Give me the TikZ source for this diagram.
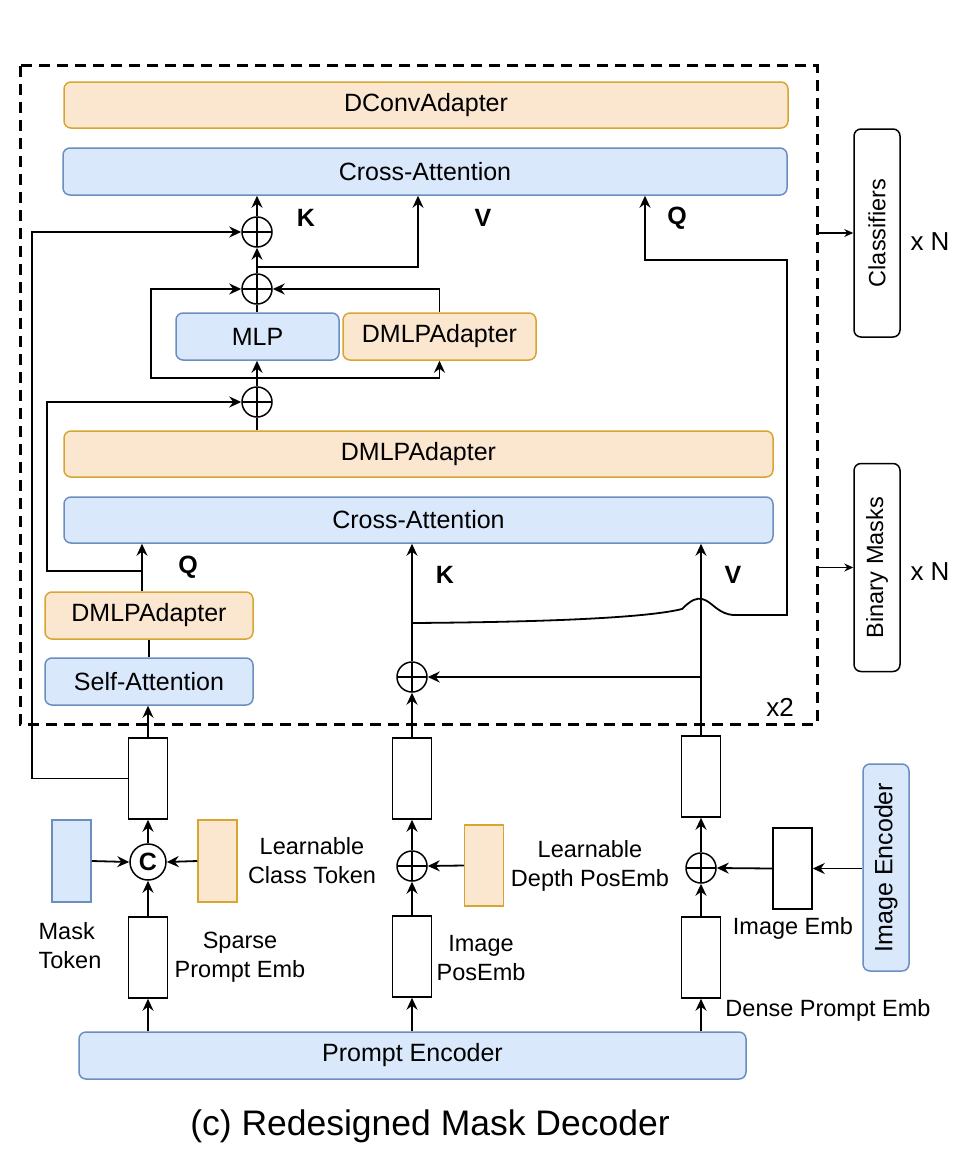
\documentclass[tikz,border=0pt]{standalone}
\usepackage{fontspec}
\setmainfont{Liberation Sans}
\usetikzlibrary{arrows.meta}
\definecolor{bluefill}{HTML}{DAE8FC}
\definecolor{bluedraw}{HTML}{6C8EBF}
\definecolor{orangefill}{HTML}{FBE6CF}
\definecolor{orangedraw}{HTML}{D8A530}
\begin{document}
\begin{tikzpicture}[
    x=1pt, y=-1pt,
    blk/.style={draw=bluedraw, fill=bluefill, rounded corners=7pt, line width=1.5pt, inner sep=0pt, font=\fontsize{25}{30}\selectfont},
    adp/.style={blk, draw=orangedraw, fill=orangefill},
    outbox/.style={draw, rounded corners=7pt, line width=1.5pt, inner sep=0pt, minimum width=46pt, minimum height=208pt},
    tok/.style={draw, line width=1.5pt, minimum width=39pt, minimum height=81pt, inner sep=0pt},
    sumc/.style={circle, draw, line width=1.5pt, minimum size=30pt, inner sep=0pt,
      path picture={\draw[line width=1.5pt] (path picture bounding box.north) -- (path picture bounding box.south)
        (path picture bounding box.west) -- (path picture bounding box.east);}},
    lbl/.style={font=\fontsize{23.5}{29}\selectfont, align=center, inner sep=0pt},
    kqv/.style={font=\fontsize{25}{30}\selectfont\bfseries, inner sep=0pt},
    arr/.style={-{Stealth[length=12pt, width=11pt, inset=4pt]}},
    line width=1.8pt
  ]
  \useasboundingbox (0,0) rectangle (956,1172);
  \draw[line width=3pt, dash pattern=on 11pt off 7pt] (20,66) rectangle (817,724);

  \node[adp, minimum width=724pt, minimum height=46pt] (dconv) at (426,105) {DConvAdapter};
  \node[blk, minimum width=724pt, minimum height=47pt] (caT) at (425,171.5) {Cross-Attention};
  \node[sumc] (sumK) at (257,232) {};
  \node[sumc] (sum2) at (257,289) {};
  \node[blk, minimum width=163pt, minimum height=47pt] (mlp) at (257.5,336.5) {MLP};
  \node[adp, minimum width=193pt, minimum height=47pt] (dmS) at (439.5,336.5) {DMLPAdapter};
  \node[sumc] (sum3) at (257,402) {};
  \node[adp, minimum width=709pt, minimum height=46pt] (dmB) at (418.5,454) {DMLPAdapter};
  \node[blk, minimum width=709pt, minimum height=46pt] (caL) at (418.5,520) {Cross-Attention};
  \node[adp, minimum width=208pt, minimum height=47pt] (adS) at (149,615.5) {DMLPAdapter};
  \node[blk, minimum width=208pt, minimum height=47pt] (sa) at (149,681.5) {Self-Attention};
  \node[sumc] (sumK2) at (412,677) {};

  \node[kqv] (kT) at (306,218) {K};
  \node[kqv] (vT) at (483,218) {V};
  \node[kqv] (qT) at (677,218) {Q};
  \node[kqv] (qL) at (188,567) {Q};
  \node[kqv] (kL) at (445,575) {K};
  \node[kqv] (vL) at (733,575) {V};
  \node[font=\fontsize{26}{30}\selectfont, inner sep=0pt] (rep) at (780,707) {x2};

  \node[outbox] (clsb) at (877,233) {\rotatebox{90}{\fontsize{23.5}{28}\selectfont Classifiers}};
  \node[outbox] (mskb) at (877,567.5) {\rotatebox{90}{\fontsize{23.5}{28}\selectfont Binary Masks}};
  \node[font=\fontsize{26}{30}\selectfont, inner sep=0pt] (nA) at (930,242) {x N};
  \node[font=\fontsize{26}{30}\selectfont, inner sep=0pt] (nB) at (930,572) {x N};

  \node[tok] (tokS) at (148,778.5) {};
  \node[circle, draw, line width=1.5pt, minimum size=36pt, inner sep=0pt, font=\fontsize{25}{30}\selectfont\bfseries] (cc) at (148,862) {C};
  \node[tok, draw=bluedraw, fill=bluefill, minimum height=82pt] (mask) at (71.5,861) {};
  \node[tok, draw=orangedraw, fill=orangefill, minimum height=82pt] (clsTok) at (217.5,861) {};
  \node[tok] (tokS2) at (148,957.5) {};
  \node[tok] (tokM) at (412,778.5) {};
  \node[sumc] (sumM) at (412,866) {};
  \node[tok, draw=orangedraw, fill=orangefill] (depth) at (484,865.5) {};
  \node[tok] (tokPos) at (412,956.5) {};
  \node[tok] (tokR) at (701,776.5) {};
  \node[sumc] (sumR) at (701,868) {};
  \node[tok] (imgEmb) at (792.5,868.5) {};
  \node[tok] (dense) at (701,957.5) {};
  \node[blk, minimum width=46pt, minimum height=207pt] (enc) at (886,867.5) {\rotatebox{90}{Image Encoder}};
  \node[blk, minimum width=667pt, minimum height=47pt] (pe) at (412.5,1055.5) {Prompt Encoder};

  \node[lbl] (lClass) at (312,861) {Learnable\\Class Token};
  \node[lbl, align=left] (lMask) at (70,946) {Mask\\Token};
  \node[lbl] (lSparse) at (240,957) {Sparse\\Prompt Emb};
  \node[lbl] (lDepth) at (590,866) {Learnable\\Depth PosEmb};
  \node[lbl] (lPos) at (481,958) {Image\\PosEmb};
  \node[lbl] (lImg) at (793,928) {Image Emb};
  \node[lbl] (lDense) at (828,1010) {Dense Prompt Emb};
  \node[font=\fontsize{35.5}{40}\selectfont, inner sep=0pt] (cap) at (430,1126) {(c) Redesigned Mask Decoder};

  \coordinate (vsplit) at (257,267);
  \coordinate (msplit) at (257,378);
  \coordinate (qsplit) at (142,571);
  \coordinate (kbranch) at (412,623);
  \coordinate (vbranch) at (701,677);

  \draw[arr] (sumK.north) -- (sumK.north |- caT.south);
  \draw[arr] (sum2.north) -- (sumK.south);
  \draw[arr] (vsplit) -| ([xshift=-7pt]caT.south);
  \draw (sum2.south |- mlp.north) -- (sum2.south);
  \draw[arr] (dmS.north) |- (sum2.east);
  \draw[arr] (sum3.north) -- (sum3.north |- mlp.south);
  \draw[arr] (msplit) -| (dmS.south);
  \draw[arr] (msplit) -- (151,378) |- (sum2.west);
  \draw (sum3.south |- dmB.north) -- (sum3.south);
  \draw[arr] (qsplit |- adS.north) -- (qsplit |- caL.south);
  \draw (sa.north) -- (adS.south);
  \draw[arr] (qsplit) -- (47,571) |- (sum3.west);
  \draw[arr] (tokS.west) -- (32,778.5) |- (sumK.west);
  \draw[arr] (kbranch) .. controls (560,622) and (650,617) .. (682,609)
    .. controls (692,599) and (697,598) .. (702,599)
    .. controls (712,601) and (718,615) .. (735,615) -- (787,615) -- (787,260) -| ([xshift=220pt]caT.south);

  \draw[arr] (tokS.north) -- (tokS.north |- sa.south);
  \draw[arr] (cc.north) -- (tokS.south);
  \draw[arr] (mask.east) -- (cc.west);
  \draw[arr] (clsTok.west) -- (cc.east);
  \draw[arr] (tokS2.north) -- (cc.south);
  \draw[arr] (pe.north -| tokS2) -- (tokS2.south);

  \draw[arr] (pe.north -| tokPos) -- (tokPos.south);
  \draw[arr] (tokPos.north) -- (sumM.south);
  \draw[arr] (depth.west) -- (sumM.east);
  \draw[arr] (sumM.north) -- (tokM.south);
  \draw[arr] (tokM.north) -- (sumK2.south);
  \draw[arr] (sumK2.north) -- (sumK2.north |- caL.south);

  \draw[arr] (pe.north -| dense) -- (dense.south);
  \draw[arr] (dense.north) -- (sumR.south);
  \draw[arr] (imgEmb.west) -- (sumR.east);
  \draw[arr] (enc.west |- imgEmb) -- (imgEmb.east);
  \draw[arr] (sumR.north) -- (tokR.south);
  \draw[arr] (tokR.north) -- (tokR.north |- caL.south);
  \draw[arr] (vbranch) -- (sumK2.east);

  \draw[-{Stealth[length=9pt, width=8pt, inset=3pt]}, line width=1.2pt] ([xshift=-37pt]clsb.west) -- (clsb.west);
  \draw[-{Stealth[length=9pt, width=8pt, inset=3pt]}, line width=1.2pt] ([xshift=-37pt]mskb.west) -- (mskb.west);
\end{tikzpicture}
\end{document}
